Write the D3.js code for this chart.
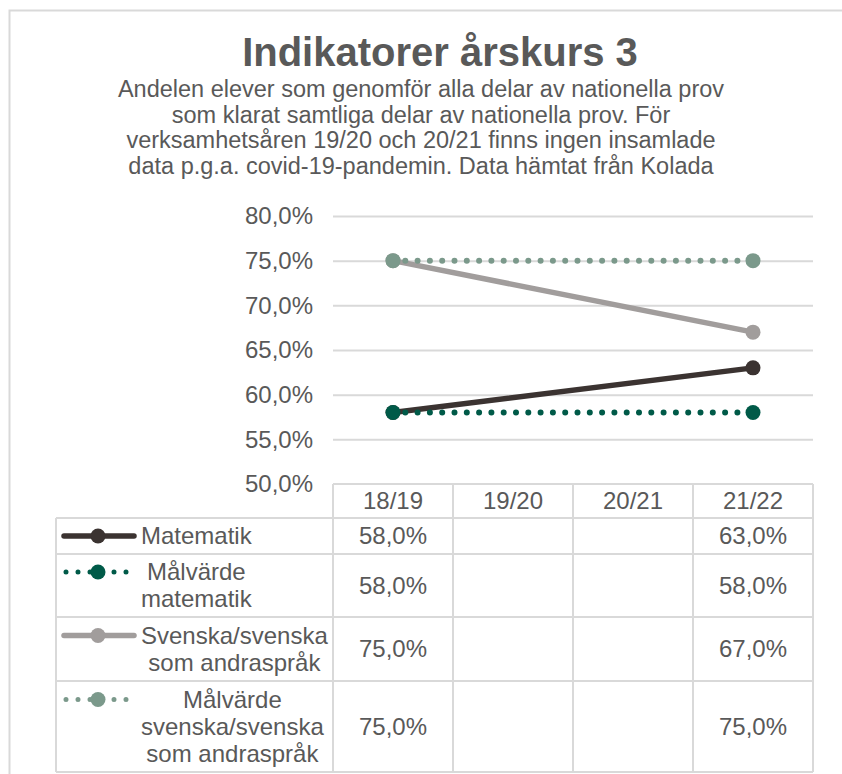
<!DOCTYPE html>
<html>
<head>
<meta charset="utf-8">
<script src="https://cdn.jsdelivr.net/npm/d3@7"></script>
<style>
  body { margin: 0; background: #fff; }
  text { font-family: "Liberation Sans", Arial, sans-serif; fill: #595959; }
</style>
</head>
<body>
<svg id="chart" width="842" height="774"></svg>
<script>
// data
const seasons = ["18/19", "19/20", "20/21", "21/22"];
const matematik = [58, null, null, 63];
const malvardeMatematik = [58, null, null, 58];
const svenska = [75, null, null, 67];
const malvardeSvenska = [75, null, null, 75];
const yTicks = [50, 55, 60, 65, 70, 75, 80];

const titleText = "Indikatorer årskurs 3";
const subtitleLines = [
  "Andelen elever som genomför alla delar av nationella prov",
  "som klarat samtliga delar av nationella prov. För",
  "verksamhetsåren 19/20 och 20/21 finns ingen insamlade",
  "data p.g.a. covid-19-pandemin. Data hämtat från Kolada"
];

const series = [
  { name: ["Matematik"], values: matematik, color: "#3b3331", dotted: false },
  { name: ["Målvärde", "matematik"], values: malvardeMatematik, color: "#005a48", dotted: true },
  { name: ["Svenska/svenska", "som andraspråk"], values: svenska, color: "#a19d9c", dotted: false },
  { name: ["Målvärde", "svenska/svenska", "som andraspråk"], values: malvardeSvenska, color: "#7b998b", dotted: true }
];

(function () {
  const svg = d3.select("#chart");
  const grid = "#d9d9d9";
  const fs = "24px";

  // swedish number format: 58 -> "58,0%"
  const sv = d3.formatLocale({ decimal: ",", thousands: " ", grouping: [3], currency: ["", " kr"] });
  const pct = (v) => sv.format(".1f")(v) + "%";

  // chart area border (cropped on right and bottom)
  svg.append("rect")
    .attr("x", 9.5).attr("y", 10.5)
    .attr("width", 900).attr("height", 900)
    .attr("fill", "none").attr("stroke", grid).attr("stroke-width", 2);

  // title + subtitle
  svg.append("text")
    .attr("x", 440).attr("y", 66)
    .attr("text-anchor", "middle")
    .style("font-size", "40px").style("font-weight", "bold")
    .text(titleText);

  svg.append("g").selectAll("text")
    .data(subtitleLines)
    .join("text")
    .attr("x", 421)
    .attr("y", (d, i) => 97 + i * 25.5)
    .attr("text-anchor", "middle")
    .style("font-size", "23.5px")
    .text((d) => d);

  // scales
  const x = d3.scaleBand().domain(seasons).range([333, 813]);
  const y = d3.scaleLinear().domain([50, 80]).range([484, 216]);

  // gridlines + y labels
  const yAxis = svg.append("g")
    .attr("transform", "translate(333,0)")
    .call(d3.axisLeft(y).tickValues(yTicks).tickFormat(pct).tickSize(-480).tickPadding(20))
    .call((g) => g.select(".domain").remove());
  yAxis.selectAll(".tick line").attr("stroke", grid).attr("stroke-width", 2);
  yAxis.selectAll(".tick text")
    .attr("fill", "#595959")
    .style("font-family", "'Liberation Sans', Arial, sans-serif")
    .style("font-size", fs);
  yAxis.selectAll(".tick").filter((d) => d === 50).select("line").remove();

  // lines (gaps are bridged like the original)
  const cx = (i) => x(seasons[i]) + x.bandwidth() / 2;
  const line = d3.line().x((d) => cx(d.i)).y((d) => y(d.v));
  const marks = svg.append("g");
  series.forEach((s) => {
    const pts = s.values.map((v, i) => ({ v, i })).filter((d) => d.v != null);
    marks.append("path")
      .datum(pts)
      .attr("d", line)
      .attr("fill", "none")
      .attr("stroke", s.color)
      .attr("stroke-width", s.dotted ? 6 : 5.5)
      .attr("stroke-linecap", "round")
      .attr("stroke-dasharray", s.dotted ? "0 12.3" : null);
    marks.selectAll(null)
      .data(pts)
      .join("circle")
      .attr("cx", (d) => cx(d.i))
      .attr("cy", (d) => y(d.v))
      .attr("r", 7.5)
      .attr("fill", s.color);
  });

  // ===== data table =====
  const rowEdges = [518, 554, 617, 681, 772];
  const table = svg.append("g");
  const tl = (x1, y1, x2, y2) => table.append("line")
    .attr("x1", x1).attr("y1", y1).attr("x2", x2).attr("y2", y2)
    .attr("stroke", grid).attr("stroke-width", 2);

  // header row
  tl(333, 484, 813, 484);
  seasons.forEach((s, i) => {
    table.append("text")
      .attr("x", cx(i)).attr("y", 501).attr("dy", "0.35em")
      .attr("text-anchor", "middle").style("font-size", fs)
      .text(s);
  });
  // horizontal lines
  rowEdges.forEach((ry) => tl(56, ry, 813, ry));
  // vertical lines
  tl(56, 518, 56, 772);
  x.domain().forEach((s) => tl(x(s), 484, x(s), 772));
  tl(813, 484, 813, 772);

  series.forEach((s, r) => {
    const top = rowEdges[r], bot = rowEdges[r + 1];
    const mid = (top + bot) / 2;
    // values
    s.values.forEach((v, i) => {
      if (v == null) return;
      table.append("text")
        .attr("x", cx(i)).attr("y", mid).attr("dy", "0.35em")
        .attr("text-anchor", "middle").style("font-size", fs)
        .text(pct(v));
    });
    // legend text block
    const lh = 27;
    const firstY = mid - ((s.name.length - 1) * lh) / 2;
    const txt = table.append("g");
    const ts = txt.selectAll("text")
      .data(s.name)
      .join("text")
      .attr("y", (d, i) => firstY + i * lh)
      .attr("dy", "0.35em")
      .attr("text-anchor", "middle")
      .style("font-size", fs)
      .text((d) => d);
    let w = 0;
    ts.each(function () { w = Math.max(w, this.getComputedTextLength()); });
    ts.attr("x", 141 + w / 2);

    // legend symbol aligned with first line
    const sy = firstY;
    table.append("line")
      .attr("x1", 64).attr("x2", 134).attr("y1", sy).attr("y2", sy)
      .attr("stroke", s.color)
      .attr("stroke-width", s.dotted ? 5 : 5.5)
      .attr("stroke-linecap", "round")
      .attr("stroke-dasharray", s.dotted ? "0 12" : null)
      .attr("transform", s.dotted ? "translate(2,0)" : null);
    table.append("circle")
      .attr("cx", 98).attr("cy", sy).attr("r", 7.5)
      .attr("fill", s.color);
  });
})();
</script>
</body>
</html>
